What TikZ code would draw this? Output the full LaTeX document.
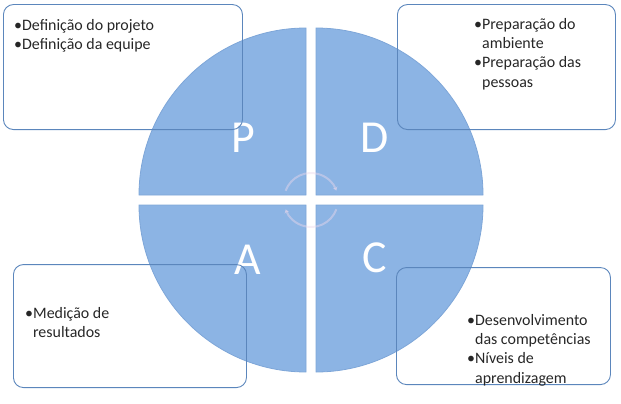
\documentclass[tikz,border=0pt]{standalone}
\usepackage{fontspec}
\setmainfont{Carlito}
\usetikzlibrary{arrows.meta}
\definecolor{quad}{HTML}{8CB4E4}
\definecolor{quadedge}{HTML}{7EA6D8}
\definecolor{boxedge}{HTML}{5B86BC}
\definecolor{txt}{HTML}{262626}
\tikzset{
  quadrant/.style={fill=quad, draw=quadedge, line width=0.8bp},
  infobox/.style={draw=boxedge, line width=0.9bp, rounded corners=10bp, inner sep=0pt, anchor=south west},
  letter/.style={text=white, font=\fontsize{46}{50}\selectfont, inner sep=0pt},
  bullets/.style={text=txt, font=\fontsize{16}{19.5}\selectfont, anchor=base west, inner sep=0pt, align=left},
  cyclearc/.style={draw=white!85!violet, line width=2bp, opacity=0.45, -{Stealth[length=4bp,width=5bp]}}
}
\begin{document}
\begin{tikzpicture}[x=1bp,y=1bp]
\useasboundingbox (0,0) rectangle (621,403);
% quadrants
\path[quadrant] (306,208) -- (139,208) arc[start angle=180,end angle=90,radius=167bp] -- cycle;
\path[quadrant] (316,208) -- (316,375) arc[start angle=90,end angle=0,radius=167bp] -- cycle;
\path[quadrant] (306,198) -- (306,31) arc[start angle=270,end angle=180,radius=167bp] -- cycle;
\path[quadrant] (316,198) -- (483,198) arc[start angle=0,end angle=-90,radius=167bp] -- cycle;
% letters
\node[letter] (lp) at (243,265) {P};
\node[letter] (ld) at (375,265) {D};
\node[letter] (la) at (248,143) {A};
\node[letter] (lc) at (375,145) {C};
% cycle arrows
\coordinate (cyc) at (311,203);
\draw[cyclearc] (cyc) ++(160:27bp) arc[start angle=160,end angle=20,radius=27bp];
\draw[cyclearc] (cyc) ++(340:27bp) arc[start angle=340,end angle=200,radius=27bp];
% boxes
\node[infobox, minimum width=239bp, minimum height=125bp] (pbox) at (3,273) {};
\node[infobox, minimum width=218bp, minimum height=125bp] (dbox) at (397,273) {};
\node[infobox, minimum width=233bp, minimum height=123bp] (abox) at (13,15) {};
\node[infobox, minimum width=214bp, minimum height=117bp] (cbox) at (396,18) {};
% texts
\node[bullets] (pt) at (14,373) {\begin{tabular}[t]{@{}l@{}l@{}}•&Definição do projeto\\•&Definição da equipe\end{tabular}};
\node[bullets] (dt) at (474,374) {\begin{tabular}[t]{@{}l@{}l@{}}•&Preparação do\\&ambiente\\•&Preparação das\\&pessoas\end{tabular}};
\node[bullets] (at) at (25,85) {\begin{tabular}[t]{@{}l@{}l@{}}•&Medição de\\&resultados\end{tabular}};
\node[bullets] (ct) at (467,78) {\begin{tabular}[t]{@{}l@{}l@{}}•&Desenvolvimento\\&das competências\\•&Níveis de\\&aprendizagem\end{tabular}};
\end{tikzpicture}
\end{document}
